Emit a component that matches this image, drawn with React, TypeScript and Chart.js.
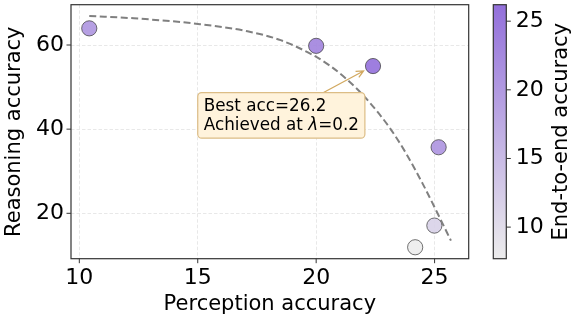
import React, { useEffect, useRef } from 'react';
import { Chart, registerables } from 'chart.js';

Chart.register(...registerables);

// ---- data ----
const perception = [10.42, 20.0, 22.4, 25.17, 24.99, 24.18];
const reasoning = [63.96, 59.8, 55.0, 35.7, 17.08, 11.93];
const endToEnd = [20.5, 23.3, 26.2, 20.8, 11.8, 7.7];

const frontierX = [10.42, 12.3, 15.1, 17.1, 18.5, 19.9, 20.6, 21.3, 22.1, 23.1, 23.8, 24.5, 25.2, 25.69];
const frontierY = [66.9, 66.35, 64.95, 63.25, 61.15, 57.5, 55.0, 51.8, 47.35, 40.35, 34.2, 27.0, 19.15, 13.5];

const xTicks = [10, 15, 20, 25];
const yTicks = [20, 40, 60];
const cbarTicks = [10, 15, 20, 25];

const bestAcc = 26.2;
const bestLambda = 0.2;
const bestPoint = { x: 22.0, y: 53.83 }; // arrow tip
const boxAnchor = { x: 15.0, y: 48.7 }; // top-left of annotation box

const FONT = '"DejaVu Sans", "Liberation Sans", sans-serif';
const CMAP_LOW = [236, 236, 236];
const CMAP_HIGH = [147, 112, 219];

const vMin = Math.min(...endToEnd);
const vMax = Math.max(...endToEnd);

function cmap(v: number, alpha = 1) {
  const t = Math.max(0, Math.min(1, (v - vMin) / (vMax - vMin)));
  const c = CMAP_LOW.map((lo, i) => Math.round(lo + (CMAP_HIGH[i] - lo) * t));
  return `rgba(${c[0]},${c[1]},${c[2]},${alpha})`;
}

const extrasPlugin = {
  id: 'extras',
  afterDraw(chart: any) {
    const { ctx, chartArea: a, scales } = chart;
    const xs = scales.x;
    const ys = scales.y;
    ctx.save();

    // frame (all four spines)
    ctx.strokeStyle = '#333';
    ctx.lineWidth = 1.2;
    ctx.setLineDash([]);
    ctx.strokeRect(a.left, a.top, a.right - a.left, a.bottom - a.top);

    // tick marks
    ctx.lineWidth = 1;
    ctx.beginPath();
    xTicks.forEach((v) => {
      const px = xs.getPixelForValue(v);
      ctx.moveTo(px, a.bottom);
      ctx.lineTo(px, a.bottom + 4.5);
    });
    yTicks.forEach((v) => {
      const py = ys.getPixelForValue(v);
      ctx.moveTo(a.left - 4.5, py);
      ctx.lineTo(a.left, py);
    });
    ctx.stroke();

    // colorbar
    const cbL = a.right + 24.6;
    const cbW = 13;
    const cbT = a.top;
    const cbB = a.bottom;
    const grad = ctx.createLinearGradient(0, cbB, 0, cbT);
    grad.addColorStop(0, cmap(vMin));
    grad.addColorStop(1, cmap(vMax));
    ctx.fillStyle = grad;
    ctx.fillRect(cbL, cbT, cbW, cbB - cbT);
    ctx.strokeStyle = '#333';
    ctx.lineWidth = 1.2;
    ctx.strokeRect(cbL, cbT, cbW, cbB - cbT);
    ctx.lineWidth = 1;
    ctx.fillStyle = '#000';
    ctx.font = `22px ${FONT}`;
    ctx.textAlign = 'left';
    ctx.textBaseline = 'middle';
    cbarTicks.forEach((v) => {
      const py = cbB - ((v - vMin) / (vMax - vMin)) * (cbB - cbT);
      ctx.beginPath();
      ctx.moveTo(cbL + cbW, py);
      ctx.lineTo(cbL + cbW + 4.5, py);
      ctx.stroke();
      ctx.fillText(String(v), cbL + cbW + 9.5, py);
    });
    ctx.save();
    ctx.translate(562, (cbT + cbB) / 2);
    ctx.rotate(-Math.PI / 2);
    ctx.textAlign = 'center';
    ctx.font = `21px ${FONT}`;
    ctx.fillText('End-to-end accuracy', 0, 0);
    ctx.restore();

    // annotation
    const bx = xs.getPixelForValue(boxAnchor.x);
    const by = ys.getPixelForValue(boxAnchor.y);
    const fs = 16.8;
    const pad = 6;
    const line1 = [{ t: `Best acc=${bestAcc}`, it: false }];
    const line2 = [
      { t: 'Achieved at ', it: false },
      { t: 'λ', it: true },
      { t: `=${bestLambda}`, it: false },
    ];
    const measure = (segs: any[]) =>
      segs.reduce((w, s) => {
        ctx.font = `${s.it ? 'italic ' : ''}${fs}px ${FONT}`;
        return w + ctx.measureText(s.t).width;
      }, 0);
    const tw = Math.max(measure(line1), measure(line2));
    const bw = tw + pad * 2;
    const bh = 45.6;
    const cx = bx + bw / 2;
    const cy = by + bh / 2;

    // arrow from box edge to point
    const tx = xs.getPixelForValue(bestPoint.x);
    const ty = ys.getPixelForValue(bestPoint.y);
    const dx = tx - cx;
    const dy = ty - cy;
    let s = Infinity;
    if (dy !== 0) s = Math.min(s, Math.abs(bh / 2 / dy));
    if (dx !== 0) s = Math.min(s, Math.abs(bw / 2 / dx));
    const sx = cx + dx * s;
    const sy = cy + dy * s;
    ctx.strokeStyle = '#d2a960';
    ctx.lineWidth = 1.3;
    ctx.beginPath();
    ctx.moveTo(sx, sy);
    ctx.lineTo(tx, ty);
    const ang = Math.atan2(ty - sy, tx - sx);
    const hl = 8;
    const hw = 0.45;
    ctx.moveTo(tx - hl * Math.cos(ang - hw), ty - hl * Math.sin(ang - hw));
    ctx.lineTo(tx, ty);
    ctx.lineTo(tx - hl * Math.cos(ang + hw), ty - hl * Math.sin(ang + hw));
    ctx.stroke();

    // box
    ctx.fillStyle = '#fff3dc';
    ctx.strokeStyle = '#dcbd86';
    ctx.lineWidth = 1.2;
    ctx.beginPath();
    ctx.roundRect(bx, by, bw, bh, 4);
    ctx.fill();
    ctx.stroke();

    ctx.fillStyle = '#000';
    ctx.textAlign = 'left';
    ctx.textBaseline = 'alphabetic';
    const drawLine = (segs: any[], y: number) => {
      let x = bx + pad;
      segs.forEach((sg) => {
        ctx.font = `${sg.it ? 'italic ' : ''}${fs}px ${FONT}`;
        ctx.fillText(sg.t, x, y);
        x += ctx.measureText(sg.t).width;
      });
    };
    drawLine(line1, by + 18);
    drawLine(line2, by + 37.3);

    ctx.restore();
  },
};

export default function App() {
  const ref = useRef<HTMLCanvasElement | null>(null);

  useEffect(() => {
    document.body.style.margin = '0';
    if (!ref.current) return;
    const chart = new Chart(ref.current, {
      type: 'scatter',
      data: {
        datasets: [
          {
            type: 'line',
            data: frontierX.map((x, i) => ({ x, y: frontierY[i] })),
            borderColor: '#808080',
            borderWidth: 2,
            borderDash: [7, 3.5],
            pointRadius: 0,
            fill: false,
            cubicInterpolationMode: 'monotone',
          } as any,
          {
            data: perception.map((x, i) => ({ x, y: reasoning[i] })),
            pointRadius: 7.6,
            pointBackgroundColor: endToEnd.map((v) => cmap(v, 0.9)),
            pointBorderColor: 'rgba(60,60,60,0.9)',
            pointBorderWidth: 0.8,
            showLine: false,
          },
        ],
      },
      options: {
        responsive: false,
        animation: false,
        devicePixelRatio: 1,
        layout: { autoPadding: false, padding: { top: 4.7, right: 102.3, left: 0, bottom: 0 } },
        plugins: { legend: { display: false }, tooltip: { enabled: false } },
        scales: {
          x: {
            type: 'linear',
            min: 9.649,
            max: 26.44,
            afterBuildTicks: (s: any) => {
              s.ticks = xTicks.map((v) => ({ value: v }));
            },
            afterFit: (s: any) => {
              s.height = 64.3;
              s.paddingLeft = 0;
              s.paddingRight = 0;
            },
            grid: { color: '#e2e2e2', lineWidth: 0.8, drawTicks: false },
            border: { display: false, dash: [3.5, 2] },
            ticks: {
              font: { family: FONT, size: 22 },
              color: '#000',
              padding: 6,
              maxRotation: 0,
            },
            title: {
              display: true,
              text: 'Perception accuracy',
              font: { family: FONT, size: 21 },
              color: '#000',
              padding: { top: 0, bottom: 5.8 },
            },
          },
          y: {
            type: 'linear',
            min: 9.21,
            max: 69.58,
            afterBuildTicks: (s: any) => {
              s.ticks = yTicks.map((v) => ({ value: v }));
            },
            afterFit: (s: any) => {
              s.width = 71;
              s.paddingTop = 0;
              s.paddingBottom = 0;
            },
            grid: { color: '#e2e2e2', lineWidth: 0.8, drawTicks: false },
            border: { display: false, dash: [3.5, 2] },
            ticks: {
              font: { family: FONT, size: 22 },
              color: '#000',
              padding: 7,
            },
            title: {
              display: true,
              text: 'Reasoning accuracy',
              font: { family: FONT, size: 21 },
              color: '#000',
              padding: { top: 2.0, bottom: 0 },
            },
          },
        },
      },
      plugins: [extrasPlugin],
    });
    return () => chart.destroy();
  }, []);

  return (
    <canvas
      ref={ref}
      width={571}
      height={323}
      style={{ position: 'absolute', left: 0, top: 0, display: 'block' }}
    />
  );
}
